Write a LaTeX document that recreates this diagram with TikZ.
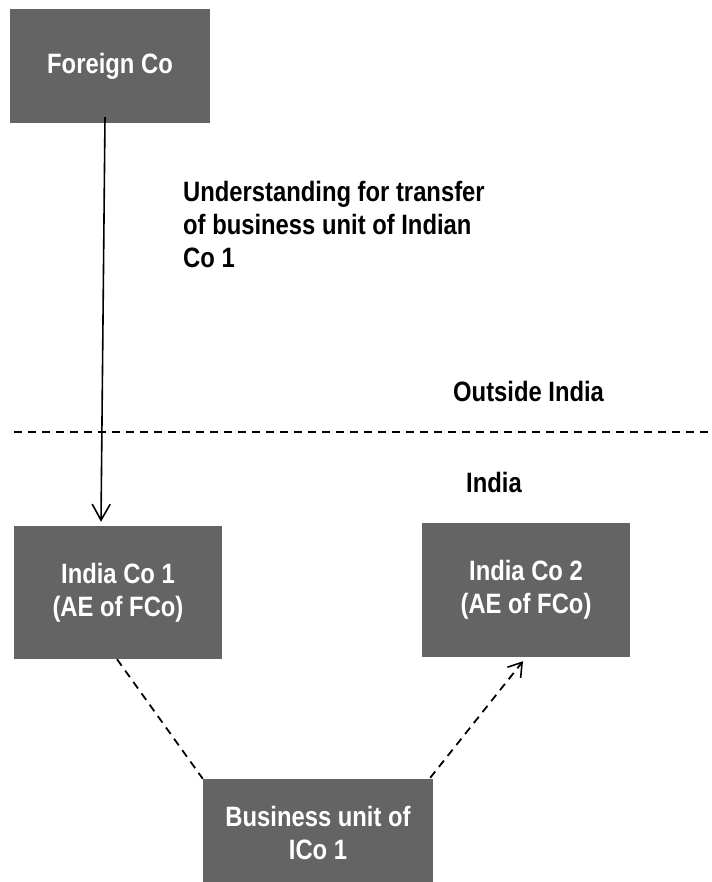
\documentclass[tikz,border=0pt]{standalone}
\usepackage{fontspec}
\setmainfont{Liberation Sans}[FakeStretch=0.85]
\usetikzlibrary{arrows.meta}
\definecolor{boxgray}{RGB}{100,100,100}
\begin{document}
\begin{tikzpicture}[x=1pt,y=-1pt,
  box/.style={fill=boxgray, text=white, draw=none, inner sep=0pt, align=center,
    font=\fontsize{28}{33}\selectfont\bfseries},
  lbl/.style={inner sep=0pt, align=left, font=\fontsize{28}{33}\selectfont\bfseries},
  solidarrow/.style={line width=1.6pt, -{Straight Barb[length=16pt,width=18pt]}},
  dashline/.style={line width=1.8pt, dash pattern=on 8pt off 6pt},
  dasharrow/.style={dashline, -{Straight Barb[length=13pt,width=17pt,line width=1.6pt]}}
]
\useasboundingbox (0,0) rectangle (711,882);
% boxes
\node[box, minimum width=200pt, minimum height=114pt] (fc) at (110,66) {Foreign Co};
\node[box, minimum width=208pt, minimum height=133pt] (ic1) at (118,592.5) {India Co 1\\(AE of FCo)};
\node[box, minimum width=208pt, minimum height=134pt] (ic2) at (526,590) {India Co 2\\(AE of FCo)};
\node[box, minimum width=230pt, minimum height=107pt] (bu) at (318,832.5) {Business unit of\\ICo 1};
% labels
\node[lbl, anchor=north west] (und) at (183,181) {Understanding for transfer\\of business unit of Indian\\Co 1};
\node[lbl, anchor=base west] (out) at (453,401) {Outside India};
\node[lbl, anchor=base west] (ind) at (466,492) {India};
% border line
\coordinate (bl) at (14,432);
\coordinate (br) at (711,432);
\draw[dashline] (bl) -- (br);
% connectors
\draw[solidarrow] ([xshift=-5pt,yshift=6pt]fc.south) -- ([xshift=-17pt,yshift=4pt]ic1.north);
\draw[dashline] ([xshift=-1pt]ic1.south) -- (bu.north west);
\draw[dasharrow] ([xshift=-3pt,yshift=1pt]bu.north east) -- ([xshift=-3pt,yshift=-4pt]ic2.south);
\end{tikzpicture}
\end{document}
